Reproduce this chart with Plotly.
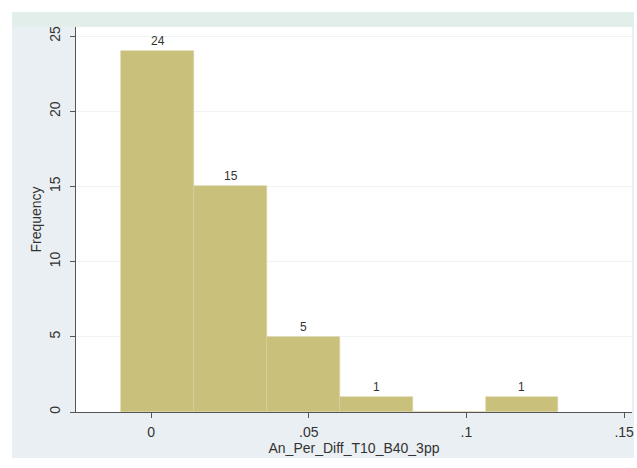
import plotly.graph_objects as go

# Histogram bins
bin_centers = [0.0021, 0.0252, 0.0483, 0.0714, 0.0945, 0.1176]
bin_width = 0.0231
counts = [24, 15, 5, 1, 0, 1]

x_tickvals = [0, 0.05, 0.1, 0.15]
x_ticktext = ["0", ".05", ".1", ".15"]
y_tickvals = [0, 5, 10, 15, 20, 25]
y_ticktext = ["0", "5", "10", "15", "20", "25"]

fig = go.Figure()
fig.add_trace(go.Bar(
    x=bin_centers, y=counts, width=[bin_width] * len(counts),
    marker=dict(color="#c9c07c", line=dict(color="#d6d0a0", width=0.6)),
    hoverinfo="skip",
))

for xc, c in zip(bin_centers, counts):
    if c > 0:
        fig.add_annotation(x=xc, y=c, text=str(c), showarrow=False,
                           yanchor="bottom", yshift=1,
                           font=dict(family="Arial", size=12, color="#333333"))

W, H = 637, 468
l, r, t, b = 76, 5, 27, 56
pw, ph = W - l - r, H - t - b

def px(xp):
    return (xp - l) / pw

def py(yp):
    return (H - b - yp) / ph

shapes = [
    dict(type="rect", xref="paper", yref="paper", x0=px(12), x1=px(634), y0=py(458), y1=py(12),
         fillcolor="#e9eff2", line=dict(width=0), layer="below"),
    dict(type="rect", xref="paper", yref="paper", x0=px(12), x1=px(634), y0=py(27), y1=py(12),
         fillcolor="#e2eee9", line=dict(width=0), layer="below"),
    dict(type="rect", xref="paper", yref="paper", x0=0, x1=1, y0=0, y1=1,
         fillcolor="white", line=dict(width=0), layer="below"),
]

fig.update_layout(
    width=W, height=H,
    margin=dict(l=l, r=r, t=t, b=b),
    paper_bgcolor="white", plot_bgcolor="rgba(0,0,0,0)",
    showlegend=False, bargap=0,
    shapes=shapes,
    font=dict(family="Arial", color="#333333"),
    xaxis=dict(
        range=[-0.0238, 0.1525], tickvals=x_tickvals, ticktext=x_ticktext,
        automargin=False,
        showgrid=False, zeroline=False, showline=True, linecolor="#555555", linewidth=1.2,
        ticks="outside", ticklen=5, tickcolor="#555555", ticklabelstandoff=2,
        tickfont=dict(size=14, color="#333333"),
        title=dict(text="An_Per_Diff_T10_B40_3pp", font=dict(size=14, color="#333333"), standoff=0),
    ),
    yaxis=dict(
        range=[0, 25.6], tickvals=y_tickvals, ticktext=y_ticktext, tickangle=-90,
        automargin=False,
        showgrid=True, gridcolor="#eef3f3", gridwidth=1, zeroline=False,
        showline=True, linecolor="#555555", linewidth=1.2,
        ticks="outside", ticklen=5, tickcolor="#555555", ticklabelstandoff=4,
        tickfont=dict(size=14, color="#333333"),
        title=dict(text="Frequency", font=dict(size=14, color="#333333"), standoff=2),
    ),
)

fig.write_html("out.html", post_script="document.body.style.margin='0';",
               config={"displayModeBar": False})
